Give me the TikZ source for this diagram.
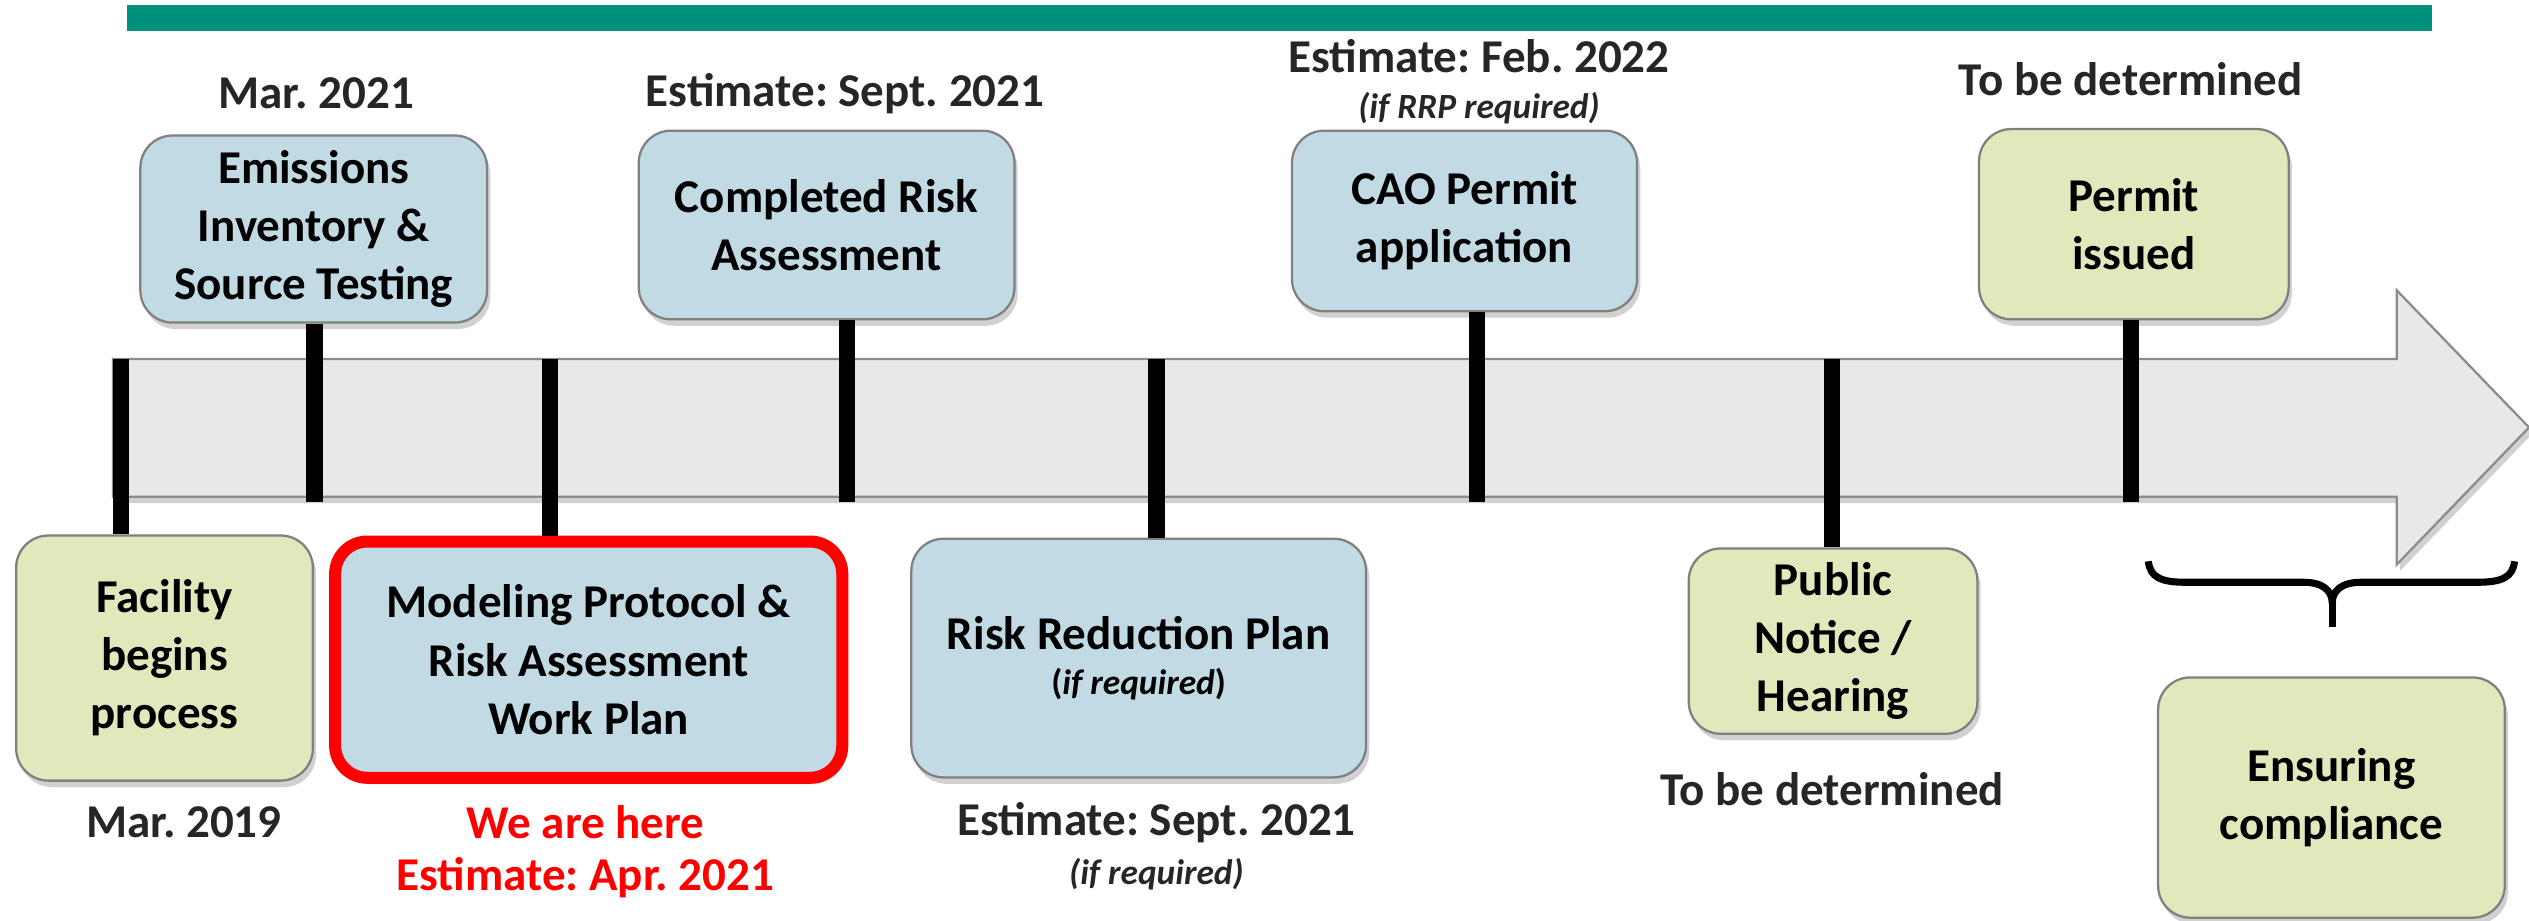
\documentclass[tikz,border=0pt]{standalone}
\usepackage{fontspec}
\setmainfont{Carlito}
\usetikzlibrary{shadows}

\definecolor{tealbar}{RGB}{0,145,125}
\definecolor{boxblue}{RGB}{194,218,228}
\definecolor{boxgreen}{RGB}{225,233,188}
\definecolor{boxline}{RGB}{128,128,128}
\definecolor{arrowgray}{RGB}{232,232,232}
\definecolor{arrowline}{RGB}{140,140,140}
\definecolor{datetext}{RGB}{38,38,38}

\frenchspacing

\begin{document}
\begin{tikzpicture}[x=0.02cm, y=-0.02cm,
    every node/.style={font=\fontsize{16.6}{20.5}\selectfont\bfseries, align=center},
    softshadow/.style={drop shadow={shadow xshift=0.04cm, shadow yshift=-0.08cm, fill=black!60, opacity=0.3}},
    stage/.style={rectangle, rounded corners=0.4cm, draw=boxline, line width=0.8pt, inner sep=2pt, softshadow},
    bluestage/.style={stage, fill=boxblue},
    greenstage/.style={stage, fill=boxgreen},
    datelabel/.style={text=datetext},
    herelabel/.style={text=red},
    note/.style={font=\fontsize{12.5}{15}\selectfont\bfseries\itshape, text=datetext},
    tick/.style={line width=0.2cm}]

    \useasboundingbox (0,0) rectangle (1568,571);

    \fill [tealbar] (79,3) rectangle (1508,19);

    % timeline arrow
    \draw [fill=arrowgray, draw=arrowline, line width=0.8pt, softshadow] (70,222.6) -- (1486,222.6) -- (1486,180) -- (1568,265) -- (1486,350) -- (1486,308) -- (70,308) -- cycle;

    \coordinate (ta) at (75,222.6);
    \coordinate (tb) at (195,311);
    \coordinate (tc) at (341,222.6);
    \coordinate (td) at (525,311);
    \coordinate (te) at (717,222.6);
    \coordinate (tf) at (916,311);
    \coordinate (tg) at (1136,222.6);
    \coordinate (th) at (1321,311);

    % stages above the arrow
    \node [bluestage, minimum width=4.30cm, minimum height=2.32cm] (emis) at (194.5,142) {Emissions\\Inventory \&\\Source Testing};
    \node [bluestage, minimum width=4.66cm, minimum height=2.34cm] (cmp) at (512.5,139.5) {Completed Risk\\Assessment};
    \node [bluestage, minimum width=4.28cm, minimum height=2.24cm] (cao) at (908,137) {CAO Permit\\application};
    \node [greenstage, minimum width=3.84cm, minimum height=2.36cm] (iss) at (1323,139) {Permit\\issued};

    % stages below the arrow
    \node [greenstage, minimum width=3.68cm, minimum height=3.04cm] (fac) at (102,408) {Facility\\begins\\process};
    \node [bluestage, draw=red, line width=4.25pt, minimum width=6.29cm, minimum height=2.93cm] (mod) at (365,409) {Modeling Protocol \&\\Risk Assessment\\Work Plan};
    \node [bluestage, minimum width=5.64cm, minimum height=2.96cm] (rrp) at (706,408) {Risk Reduction Plan\\[-4.5pt]{\fontsize{12.5}{15}\selectfont(\textit{if required})}};
    \node [greenstage, minimum width=3.58cm, minimum height=2.30cm] (pub) at (1136.5,397.5) {Public\\Notice /\\Hearing};
    \node [greenstage, minimum width=4.30cm, minimum height=2.98cm] (ens) at (1445.5,494.5) {Ensuring\\compliance};

    \draw [tick] (ta) -- (ta |- fac.north);
    \draw [tick] (tb) -- (tb |- emis.south);
    \draw [tick] (tc) -- (tc |- mod.north);
    \draw [tick] (td) -- (td |- cmp.south);
    \draw [tick] (te) -- (te |- rrp.north);
    \draw [tick] (tf) -- (tf |- cao.south);
    \draw [tick] (tg) -- (tg |- pub.north);
    \draw [tick] (th) -- (th |- iss.south);

    \node [datelabel] (emisdate) at (196,58) {Mar. 2021};
    \node [datelabel] (cmpdate) at (524,58) {Estimate: Sept. 2021};
    \node [datelabel] (caodate) at (917,35) {Estimate: Feb. 2022};
    \node [note] (caonote) at (917,67) {(if RRP required)};
    \node [datelabel] (issdate) at (1321,49) {To be determined};

    \node [datelabel] (facdate) at (114,510) {Mar. 2019};
    \node [herelabel] (here) at (363,510) {We are here};
    \node [herelabel] (moddate) at (363,544) {Estimate: Apr. 2021};
    \node [datelabel] (rrpdate) at (717,510) {Estimate: Sept. 2021};
    \node [note] (rrpnote) at (717,542) {(if required)};
    \node [datelabel] (pubdate) at (1136,489) {To be determined};

    % brace over the compliance box
    \coordinate (bracetip) at (1446,374);
    \draw [line width=2.5pt] (1332,348) .. controls (1333,358) and (1340,361) .. (1355,361) -- (1428,361) .. controls (1440,361) and (1446,366) .. (bracetip) .. controls (1446,366) and (1452,361) .. (1464,361) -- (1536,361) .. controls (1551,361) and (1558,358) .. (1559,348);
    \draw [line width=2.5pt] (bracetip) -- (1446,389);

\end{tikzpicture}
\end{document}
